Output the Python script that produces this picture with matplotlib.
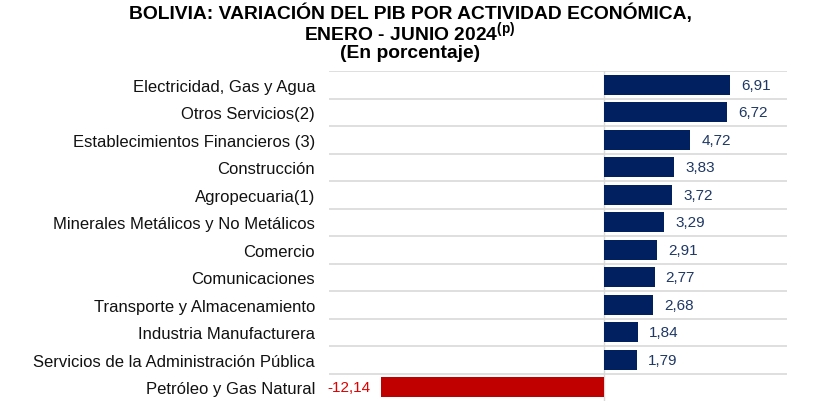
import matplotlib
matplotlib.use("Agg")
import matplotlib.pyplot as plt

plt.rcParams['font.family'] = ['Liberation Sans', 'DejaVu Sans']
plt.rcParams['mathtext.fontset'] = 'custom'
plt.rcParams['mathtext.rm'] = 'Liberation Sans'
plt.rcParams['mathtext.bf'] = 'Liberation Sans:bold'

categories = [
    "Electricidad, Gas y Agua",
    "Otros Servicios(2)",
    "Establecimientos Financieros (3)",
    "Construcción",
    "Agropecuaria(1)",
    "Minerales Metálicos y No Metálicos",
    "Comercio",
    "Comunicaciones",
    "Transporte y Almacenamiento",
    "Industria Manufacturera",
    "Servicios de la Administración Pública",
    "Petróleo y Gas Natural",
]
values = [6.91, 6.72, 4.72, 3.83, 3.72, 3.29, 2.91, 2.77, 2.68, 1.84, 1.79, -12.14]
value_labels = ["6,91", "6,72", "4,72", "3,83", "3,72", "3,29", "2,91", "2,77", "2,68", "1,84", "1,79", "-12,14"]

W, H = 829, 402
fig = plt.figure(figsize=(W / 100, H / 100), dpi=100)
ax = fig.add_axes([329 / W, 0.0, (787 - 329) / W, (H - 72) / H])

n = len(categories)
ys = list(range(n))
pos_col = "#002060"
neg_col = "#C00000"
colors = [pos_col if v >= 0 else neg_col for v in values]
ax.barh(ys, values, height=0.72, color=colors, zorder=3)

ax.set_xlim(-15, 10)
ax.set_ylim(n - 0.5, -0.5)

# row separators
for i in range(n):
    ax.axhline(i - 0.5, color="#d9d9d9", lw=1.2, zorder=1)
ax.axvline(0, color="#d9d9d9", lw=1.0, zorder=2)

for y, v, lab in zip(ys, values, value_labels):
    if v >= 0:
        ax.annotate(lab, (v, y), xytext=(8, 0), textcoords="offset points",
                    ha="left", va="center", fontsize=11, color="#1f3864")
    else:
        ax.annotate(lab, (v, y), xytext=(-8, 0), textcoords="offset points",
                    ha="right", va="center", fontsize=11, color="#e00000")

ax.set_yticks(ys)
ax.set_yticklabels(categories, fontsize=12, color="#111111")
ax.tick_params(axis="y", length=0, pad=10)
ax.set_xticks([])
for s in ax.spines.values():
    s.set_visible(False)

cx = 410 / W
fig.text(cx, 1 - 13 / H, "BOLIVIA: VARIACIÓN DEL PIB POR ACTIVIDAD ECONÓMICA,",
         ha="center", va="center", fontsize=13.9, fontweight="bold")
fig.text(cx, 1 - 33 / H, r"ENERO - JUNIO 2024$^{\mathbf{(p)}}$",
         ha="center", va="center", fontsize=13.9, fontweight="bold")
fig.text(cx, 1 - 53 / H, "(En porcentaje)",
         ha="center", va="center", fontsize=13.9, fontweight="bold")

fig.savefig("out.png", dpi=100)
